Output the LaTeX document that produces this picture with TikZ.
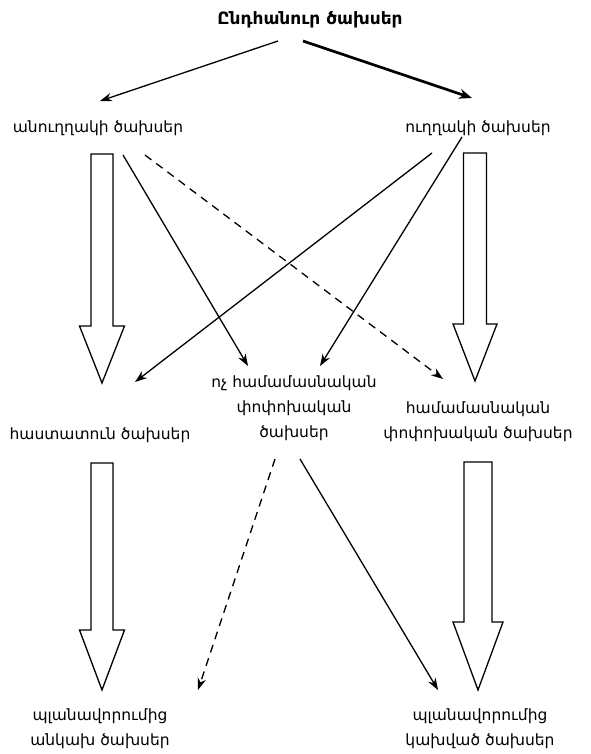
\documentclass[tikz,border=0pt]{standalone}
\usepackage{fontspec}
\setmainfont{DejaVu Sans}
\usepackage{tikz}
\usetikzlibrary{arrows.meta,calc}

% hollow block arrow: from, to, half shaft, half head, head length
\newcommand{\fatarrow}[5]{%
  \draw[fat] let \p1=(#1), \p2=(#2) in
    (\x1-#3pt,\y1) -- (\x1+#3pt,\y1) -- (\x1+#3pt,\y2+#5pt) -- (\x1+#4pt,\y2+#5pt)
    -- (\x1,\y2) -- (\x1-#4pt,\y2+#5pt) -- (\x1-#3pt,\y2+#5pt) -- cycle;}

\begin{document}
\begin{tikzpicture}[x=1pt, y=-1pt,
  lbl/.style={font=\fontsize{15.5}{25}\selectfont, align=center, inner sep=0pt},
  arr/.style={line width=1.3pt, -{Stealth[length=12pt,width=8.5pt]}},
  boldarr/.style={line width=2.7pt, -{Stealth[length=13pt,width=10pt]}},
  dasharr/.style={arr, dash pattern=on 8pt off 6pt},
  fat/.style={draw, line width=1.3pt, fill=white, line join=miter}]

\useasboundingbox (0,0) rectangle (590,754);

% Top node (all costs)
\node[lbl, font=\fontsize{17}{20}\selectfont\bfseries] (total) at (310,20) {Ընդհանուր ծախսեր};

% Second row (indirect, direct)
\node[lbl] (indirect) at (98,128) {անուղղակի ծախսեր};
\node[lbl] (direct) at (478,128) {ուղղակի ծախսեր};

% Third row (fixed, non-proportional, proportional)
\node[lbl] (fixed) at (100,435) {հաստատուն ծախսեր};
\node[lbl] (nonprop) at (294,408) {ոչ համամասնական\\փոփոխական\\ծախսեր};
\node[lbl] (prop) at (478,422) {համամասնական\\փոփոխական ծախսեր};

% Bottom row (independent, dependent on planning)
\node[lbl] (indep) at (100,729) {պլանավորումից\\անկախ ծախսեր};
\node[lbl] (dep) at (480,729) {պլանավորումից\\կախված ծախսեր};

% Arrows from the top
\draw[arr] ([shift={(-32,21)}]total.center) -- ([shift={(2,-27)}]indirect.center);
\draw[boldarr] ([shift={(-7,21)}]total.center) -- ([shift={(-6,-30)}]direct.center);

% Arrows from the second row
\fatarrow{[shift={(4,26)}]indirect.center}{[shift={(0,-52)}]fixed.center}{11}{22.5}{57}
\fatarrow{[shift={(-3,25)}]direct.center}{[shift={(-1,-41)}]prop.center}{11.5}{22}{57}
\draw[arr] ([shift={(25,27)}]indirect.center) -- ([shift={(-46,-42)}]nonprop.center);
\draw[dasharr] ([shift={(47,27)}]indirect.center) -- ([shift={(-35,-43)}]prop.center);
\draw[arr] ([shift={(-46,25)}]direct.center) -- ([shift={(35,-53)}]fixed.center);
\draw[arr] ([shift={(-16,9)}]direct.center) -- ([shift={(26,-42)}]nonprop.center);

% Arrows from the third row
\fatarrow{[shift={(2,28)}]fixed.center}{[shift={(0,-39)}]indep.center}{11}{22.5}{60}
\fatarrow{[shift={(0,40)}]prop.center}{[shift={(0,-39)}]dep.center}{14}{25}{68}
\draw[dasharr] ([shift={(-19,51)}]nonprop.center) -- ([shift={(98,-39)}]indep.center);
\draw[arr] ([shift={(6,51)}]nonprop.center) -- ([shift={(-42,-39)}]dep.center);

\end{tikzpicture}
\end{document}
